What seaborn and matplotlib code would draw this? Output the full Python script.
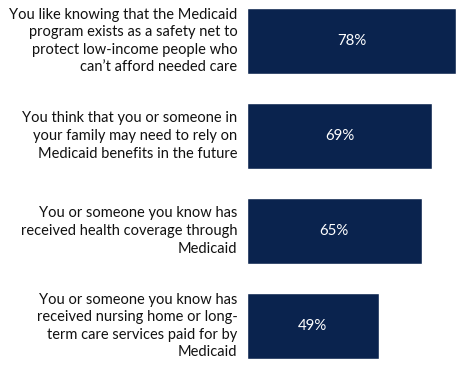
import matplotlib
matplotlib.use("Agg")
import matplotlib.pyplot as plt
import seaborn as sns
import pandas as pd

statements = [
    "You like knowing that the Medicaid\nprogram exists as a safety net to\nprotect low-income people who\ncan\u2019t afford needed care",
    "You think that you or someone in\nyour family may need to rely on\nMedicaid benefits in the future",
    "You or someone you know has\nreceived health coverage through\nMedicaid",
    "You or someone you know has\nreceived nursing home or long-\nterm care services paid for by\nMedicaid",
]
shares = [78, 69, 65, 49]
value_labels = ["78%", "69%", "65%", "49%"]

df = pd.DataFrame({"statement": statements, "share": shares})

sns.set_style("white")
plt.rcParams["font.family"] = ["Lato", "DejaVu Sans"]

fig = plt.figure(figsize=(4.57, 3.66), dpi=100)
ax = fig.add_axes([247 / 457, 0, 1 - 247 / 457, 1])

navy = "#0A234E"
sns.barplot(data=df, x="share", y="statement", orient="h", color=navy,
            width=0.695, saturation=1, ax=ax)

ax.set_xlim(0, 78.2)
ax.set_ylim(325 / 95, -41 / 95)

for i, (v, lab) in enumerate(zip(shares, value_labels)):
    ax.text(v / 2, i, lab, ha="center", va="center", color="white", fontsize=10.8)

ax.set_yticks([])
ax.set_xticks([])
ax.set_xlabel("")
ax.set_ylabel("")
for s in ax.spines.values():
    s.set_visible(False)

for i, txt in enumerate(statements):
    ax.annotate(txt, xy=(0, i), xycoords="data", xytext=(-7, 0),
                textcoords="offset points", ha="right", va="center",
                fontsize=10.5, color="#111111", linespacing=1.32,
                annotation_clip=False)

fig.savefig("out.png", dpi=100)
